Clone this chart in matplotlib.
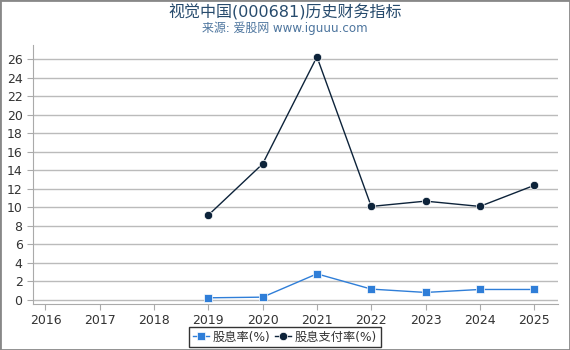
import matplotlib
matplotlib.use("Agg")
import matplotlib.pyplot as plt

plt.rcParams['font.family'] = ['DejaVu Sans', 'Noto Sans CJK SC']

# 数据
years_all = [2016, 2017, 2018, 2019, 2020, 2021, 2022, 2023, 2024, 2025]
years = [2019, 2020, 2021, 2022, 2023, 2024, 2025]
dividend_yield = [0.22, 0.29, 2.81, 1.16, 0.80, 1.12, 1.12]
payout_ratio = [9.16, 14.70, 26.27, 10.10, 10.67, 10.10, 12.37]
yticks = list(range(0, 27, 2))

title = "视觉中国(000681)历史财务指标"
subtitle = "来源: 爱股网 www.iguuu.com"

fig = plt.figure(figsize=(5.7, 3.5), dpi=100)
ax = fig.add_axes([33 / 570, 1 - 304 / 350, 525 / 570, 259 / 350])

ax.plot(years, dividend_yield, color="#2f7ed8", marker="s", markersize=5.5,
        linewidth=1.0, label="股息率(%)", markeredgecolor="white", markeredgewidth=0.5)
ax.plot(years, payout_ratio, color="#0d233a", marker="o", markersize=6,
        linewidth=1.0, label="股息支付率(%)", markeredgecolor="white", markeredgewidth=0.5)

ax.set_xlim(2015.77, 2025.44)
ax.set_ylim(-0.45, 27.55)
ax.set_xticks(years_all)
ax.set_yticks(yticks)
ax.tick_params(axis="both", labelsize=9, colors="#333333", length=4, width=0.8)
ax.tick_params(axis="both", color="#aaaaaa")
ax.grid(axis="y", color="#bbbbbb", linewidth=1.0)
ax.set_axisbelow(True)
for s in ("top", "right"):
    ax.spines[s].set_visible(False)
for s in ("left", "bottom"):
    ax.spines[s].set_color("#aaaaaa")

fig.text(0.5, 0.965, title, ha="center", va="center", fontsize=11.5, color="#274b6d")
fig.text(0.5, 0.918, subtitle, ha="center", va="center", fontsize=8.6, color="#4d759e")

leg = fig.legend(loc="center", bbox_to_anchor=(0.5, 1 - 337 / 350), ncol=2,
                 frameon=True, fontsize=8.8, handlelength=1.3, handletextpad=0.3,
                 columnspacing=0.4, borderpad=0.3, fancybox=False)
leg.get_frame().set_edgecolor("black")
leg.get_frame().set_linewidth(1.0)
for t in leg.get_texts():
    t.set_color("#333333")

# 外框
fig.patches.append(plt.Rectangle((0, 0), 1, 1, transform=fig.transFigure,
                                 fill=False, edgecolor="#888888", linewidth=2))

fig.savefig("out.png", dpi=100)
